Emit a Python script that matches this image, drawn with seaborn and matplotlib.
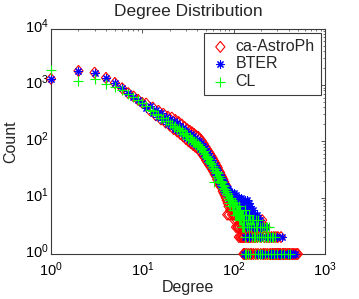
import matplotlib
matplotlib.use("Agg")
import matplotlib.pyplot as plt
import matplotlib.transforms as mtransforms
import numpy as np
import pandas as pd
import seaborn as sns

# ---------------- data ----------------
series_names = ["ca-AstroPh", "BTER", "CL"]

# counts for degree 1..130
ca_counts = [1290, 1780, 1660, 1340, 1090, 880, 720, 630, 545, 480,
             470, 360, 400, 290, 350, 245, 310, 215, 275, 190,
             265, 165, 240, 150, 220, 135, 200, 122, 180, 110,
             165, 100, 155, 93, 145, 86, 135, 80, 125, 76,
             120, 70, 110, 64, 100, 57, 90, 52, 80, 46,
             72, 42, 66, 38, 60, 35, 55, 32, 50, 29,
             45, 26, 41, 24, 37, 21, 34, 20, 30, 17,
             28, 16, 25, 15, 23, 13, 21, 12, 19, 11,
             17, 10, 16, 9, 5, 8, 13, 7, 5, 11,
             11, 6, 10, 7, 9, 5, 8, 6, 9, 5,
             8, 4, 7, 5, 6, 3, 7, 4, 6, 3,
             6, 3, 5, 2, 5, 3, 4, 2, 4, 4,
             2, 3, 3, 3, 2, 3, 2, 1, 2, 3]
# degrees above 130, grouped by count
ca_tail = {
    6: [134],
    5: [138, 150],
    4: [142, 147, 158, 170, 192, 205],
    3: [135, 155, 163, 178, 187, 195, 212, 222],
    2: [133, 140, 145, 148, 153, 160, 167, 173, 182, 200, 218, 232, 245,
        260, 275, 290, 305, 330],
    1: [131, 132, 137, 144, 152, 157, 165, 175, 185, 198, 210, 215, 225,
        236, 250, 255, 265, 270, 280, 285, 295, 300, 310, 318, 325, 340,
        350, 360, 372, 385, 398, 410, 425, 440, 455, 470, 490, 504],
}

bter_counts = [1290, 1770, 1650, 1330, 1080, 870, 715, 625, 540, 478,
               390, 430, 320, 360, 270, 315, 235, 275, 205, 250,
               185, 230, 168, 210, 155, 190, 140, 170, 125, 155,
               115, 142, 106, 133, 98, 124, 92, 113, 86, 106,
               82, 101, 74, 92, 66, 83, 60, 75, 54, 66,
               48, 61, 45, 55, 41, 50, 37, 46, 33, 41,
               30, 38, 27, 34, 25, 31, 23, 29, 20, 25,
               18, 23, 17, 21, 16, 20, 14, 18, 13, 16,
               14, 16, 12, 15, 13, 11, 14, 12, 10, 13,
               11, 12, 10, 9, 12, 10, 9, 11, 8, 12,
               9, 11, 8, 10, 7, 11, 9, 8, 10, 7,
               9, 6, 10, 8, 7, 9, 6, 8, 7, 10,
               6, 8, 5, 9, 7, 6, 8, 5, 7, 6]
bter_tail = {
    9: [134, 141],
    8: [138, 146],
    7: [144, 150],
    6: [137, 148, 155, 162],
    5: [140, 153, 158, 166, 172, 178],
    4: [133, 143, 160, 168, 175, 184, 192],
    3: [136, 147, 164, 170, 188, 198, 205, 215, 226],
    2: [132, 139, 152, 157, 181, 196, 210, 220, 240, 258, 280, 300, 335],
    1: [131, 135, 142, 145, 180, 187, 200, 212, 222, 235, 248, 262, 270,
        290, 310, 322, 345, 360, 380, 400, 425, 445, 470],
}

cl_counts = [1850, 1180, 1290, 1030, 940, 820, 700, 610, 540, 470,
             430, 360, 350, 300, 295, 258, 260, 228, 230, 205,
             205, 180, 190, 165, 172, 150, 156, 136, 140, 122,
             128, 112, 119, 104, 110, 97, 103, 90, 96, 84,
             91, 80, 83, 72, 75, 65, 67, 59, 60, 52,
             54, 48, 50, 43, 45, 40, 41, 36, 37, 33,
             19, 30, 32, 27, 29, 24, 27, 22, 24, 20,
             22, 18, 20, 17, 19, 15, 17, 14, 16, 13,
             14, 12, 13, 11, 12, 10, 11, 9, 10, 8,
             9, 7, 10, 9, 8, 7, 9, 6, 8, 7,
             7, 6, 8, 5, 7, 6, 5, 7, 6, 5,
             6, 5, 7, 4, 6, 5, 4, 6, 4, 5,
             4, 5, 3, 5, 4, 3, 5, 3, 4, 3]
cl_tail = {
    6: [134],
    5: [138, 147],
    4: [135, 143, 152, 158, 162, 176, 185],
    3: [131, 140, 146, 155, 168, 174, 182, 196, 205, 214, 224, 232, 245],
    2: [133, 148, 157, 165, 172, 178, 190, 200, 210, 218, 230, 240, 250,
        262, 270, 285],
    1: [132, 137, 142, 151, 170, 186, 195, 202, 220, 238, 255, 275, 300,
        330, 360, 390, 415],
}

title_text = "Degree Distribution"
x_label = "Degree"
y_label = "Count"


def build(counts, tail):
    deg = list(range(1, len(counts) + 1))
    cnt = list(counts)
    for c, degs in tail.items():
        deg += degs
        cnt += [c] * len(degs)
    return pd.DataFrame({"Degree": deg, "Count": cnt})


df_ca = build(ca_counts, ca_tail)
df_bter = build(bter_counts, bter_tail)
df_cl = build(cl_counts, cl_tail)

# ---------------- style ----------------
sns.set_style("white")
plt.rcParams["font.family"] = ["Liberation Sans", "DejaVu Sans"]
plt.rcParams["mathtext.fontset"] = "custom"
plt.rcParams["mathtext.rm"] = "Liberation Sans"
plt.rcParams["mathtext.it"] = "Liberation Sans:italic"
plt.rcParams["mathtext.bf"] = "Liberation Sans:bold"

FS = 11.5
frame_col = "#3c3c3c"

fig = plt.figure(figsize=(3.59, 2.99), dpi=100, facecolor="white")
ax = fig.add_axes([51 / 359, 1 - 254 / 299, 274 / 359, 225.3 / 299])

diamond = [(0, 1), (0.84, 0), (0, -1), (-0.84, 0), (0, 1)]

sns.scatterplot(data=df_ca, x="Degree", y="Count", ax=ax, marker=diamond,
                s=62, facecolor="none", edgecolor="#FF0000", linewidth=0.8,
                label=series_names[0], zorder=3, clip_on=False)
sns.scatterplot(data=df_bter, x="Degree", y="Count", ax=ax, marker=(8, 2, 0),
                s=28, color="#0000FF", linewidth=0.8,
                label=series_names[1], zorder=4, clip_on=False)
sns.scatterplot(data=df_cl, x="Degree", y="Count", ax=ax, marker="+",
                s=52, color="#00FF00", linewidth=0.8,
                label=series_names[2], zorder=5, clip_on=False)

ax.set_xscale("log")
ax.set_yscale("log")
ax.set_xlim(1, 1000)
ax.set_ylim(1, 10000)
ax.set_xticks([1, 10, 100, 1000])
ax.set_yticks([1, 10, 100, 1000, 10000])

for sp in ax.spines.values():
    sp.set_color(frame_col)
    sp.set_linewidth(0.8)
    sp.set_visible(True)
    sp.set_zorder(2)

ax.tick_params(which="both", direction="in", top=True, right=True,
               colors=frame_col, labelcolor="black", labelsize=10.5)
ax.tick_params(which="major", length=3, width=0.6)
ax.tick_params(which="minor", length=1.6, width=0.5)
ax.tick_params(axis="x", which="major", pad=4.5)
ax.tick_params(axis="y", which="major", pad=1.5)

# nudge y tick labels up slightly so the two "10^0" labels do not touch
offset = mtransforms.ScaledTranslation(0, 2.5 / 72, fig.dpi_scale_trans)
for t in ax.yaxis.get_major_ticks():
    t.label1.set_transform(t.label1.get_transform() + offset)

ax.set_xlabel(x_label, fontsize=FS, labelpad=1)
ax.set_ylabel(y_label, fontsize=FS, labelpad=5)
ax.set_title(title_text, fontsize=12.5, pad=9)

leg = ax.legend(loc="upper right", fontsize=FS, frameon=True, fancybox=False,
                framealpha=1, edgecolor=frame_col, borderaxespad=0.25,
                handlelength=1.2, handletextpad=0.35, borderpad=0.4,
                labelspacing=0.15)
leg.get_frame().set_linewidth(0.8)
leg.set_zorder(10)

fig.savefig("out.png", dpi=100, facecolor="white")
